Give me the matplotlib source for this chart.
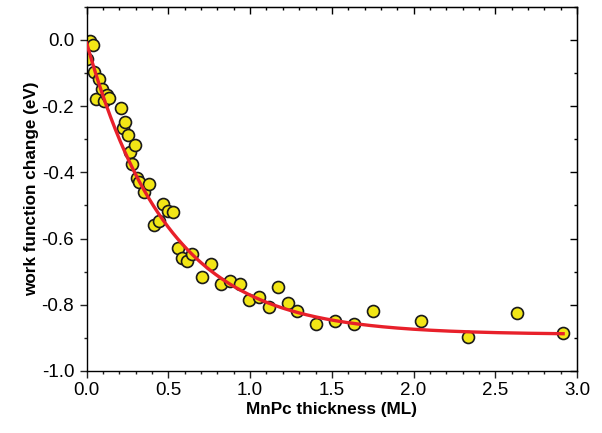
import matplotlib.pyplot as plt
import numpy as np

plt.rcParams['font.family'] = ['Liberation Sans', 'DejaVu Sans']

# measured points: MnPc thickness (ML) vs work function change (eV)
thickness = [0.004, 0.02, 0.037, 0.045, 0.057, 0.077, 0.092, 0.106, 0.122, 0.138,
             0.208, 0.22, 0.236, 0.253, 0.265, 0.275, 0.295, 0.306, 0.322, 0.35,
             0.383, 0.412, 0.44, 0.468, 0.499, 0.53, 0.557, 0.585, 0.613, 0.646,
             0.703, 0.76, 0.82, 0.878, 0.938, 0.994, 1.054, 1.113, 1.172, 1.229,
             1.288, 1.402, 1.519, 1.635, 1.753, 2.045, 2.336, 2.63, 2.915]
wf_change = [-0.058, -0.005, -0.017, -0.097, -0.18, -0.118, -0.147, -0.186, -0.166, -0.177,
             -0.206, -0.267, -0.248, -0.287, -0.338, -0.375, -0.317, -0.418, -0.43, -0.458,
             -0.436, -0.559, -0.547, -0.497, -0.517, -0.519, -0.629, -0.658, -0.668, -0.647,
             -0.717, -0.677, -0.738, -0.727, -0.737, -0.785, -0.777, -0.808, -0.747, -0.796,
             -0.818, -0.858, -0.848, -0.858, -0.818, -0.848, -0.898, -0.826, -0.886]

# exponential fit: y = y_inf + amp * exp(-x / tau)
y_inf = -0.89
amp = 0.88
tau = 0.5
fit_x = np.linspace(0, 2.915, 300)
fit_y = y_inf + amp * np.exp(-fit_x / tau)

fig = plt.figure(figsize=(6.02, 4.33), dpi=100)
ax = fig.add_axes([0.144, 0.1432, 0.8145, 0.8413])

ax.plot(thickness, wf_change, 'o', ms=8.6, mfc='#f2e616', mec='#1a1a1a', mew=1.2, zorder=2)
ax.plot(fit_x, fit_y, '-', color='#e8202a', lw=2.4, zorder=3)

ax.set_xlim(0, 3.0)
ax.set_ylim(-1.0, 0.1)
xmaj = np.arange(0, 3.01, 0.5)
xmin = np.arange(0, 3.01, 0.1)
ymaj = np.arange(-1.0, 0.01, 0.2)
ymin = np.arange(-1.0, 0.11, 0.1)
ax.set_xticks(xmaj)
ax.set_xticks(xmin, minor=True)
ax.set_yticks(ymaj)
ax.set_yticks(ymin, minor=True)
fmt = plt.FuncFormatter(lambda v, p: '%.1f' % (0.0 if abs(v) < 1e-9 else v))
ax.xaxis.set_major_formatter(fmt)
ax.yaxis.set_major_formatter(fmt)

ax.tick_params(which='both', direction='out', labelsize=13.5, width=1.0, color='#222222')
ax.tick_params(which='major', length=5, pad=3)
ax.tick_params(which='minor', length=2.5)
ax.tick_params(axis='y', which='major', pad=4)

# top / right ticks pointing inward
top = ax.secondary_xaxis('top')
top.set_xticks(xmaj)
top.set_xticks(xmin, minor=True)
top.tick_params(which='both', direction='in', labeltop=False, width=1.0)
top.tick_params(which='major', length=5)
top.tick_params(which='minor', length=2.5)
right = ax.secondary_yaxis('right')
right.set_yticks(ymaj)
right.set_yticks(ymin, minor=True)
right.tick_params(which='both', direction='in', labelright=False, width=1.0)
right.tick_params(which='major', length=5)
right.tick_params(which='minor', length=2.5)

for s in ax.spines.values():
    s.set_linewidth(1.0)

ax.set_xlabel('MnPc thickness (ML)', fontsize=12.3, fontweight='bold', labelpad=2)
ax.set_ylabel('work function change (eV)', fontsize=12.3, fontweight='bold', labelpad=2)

fig.savefig('out.png', dpi=100)
